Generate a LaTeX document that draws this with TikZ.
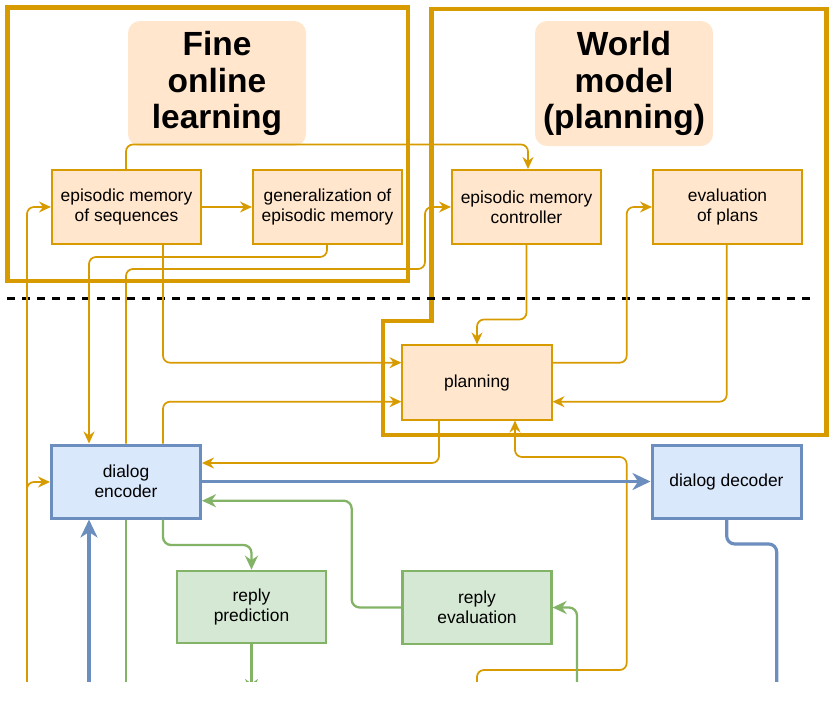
\documentclass[tikz,border=0pt]{standalone}
\usepackage{fontspec}
\setmainfont{Liberation Sans}
\usetikzlibrary{arrows.meta}
\definecolor{ostroke}{HTML}{D79B00}
\definecolor{ofill}{HTML}{FFE6CC}
\definecolor{bstroke}{HTML}{6C8EBF}
\definecolor{bfill}{HTML}{DAE8FC}
\definecolor{gstroke}{HTML}{82B366}
\definecolor{gfill}{HTML}{D5E8D4}
\tikzset{
  boxtext/.style={align=center, font=\fontsize{17.4}{19.6}\selectfont, inner sep=2pt},
  obox/.style={boxtext, draw=ostroke, fill=ofill, line width=1.6pt, minimum width=149.5pt, minimum height=74.5pt},
  bbox/.style={boxtext, draw=bstroke, fill=bfill, line width=3pt, minimum width=149pt, minimum height=73pt},
  gbox/.style={boxtext, draw=gstroke, fill=gfill, line width=2.2pt, minimum width=149pt, minimum height=72.5pt},
  titlebox/.style={fill=ofill, rounded corners=12pt, minimum width=178pt, minimum height=125pt, align=center, font=\bfseries\fontsize{33.5}{36.5}\selectfont, inner sep=0pt},
  frame/.style={draw=ostroke, line width=4.5pt},
  oc/.style={draw=ostroke, line width=1.7pt, rounded corners=7pt, -{Stealth[length=12pt,width=11pt,inset=4pt]}},
  ocn/.style={draw=ostroke, line width=1.7pt, rounded corners=7pt},
  bc/.style={draw=bstroke, line width=3.2pt, rounded corners=8pt, -{Stealth[length=18pt,width=17pt,inset=5.5pt]}},
  bcn/.style={draw=bstroke, line width=3.2pt, rounded corners=8pt},
  gc/.style={draw=gstroke, line width=2.3pt, rounded corners=8pt, -{Stealth[length=14pt,width=13pt,inset=4.5pt]}},
  gcn/.style={draw=gstroke, line width=2.3pt, rounded corners=8pt},
}
\begin{document}
\begin{tikzpicture}[x=1pt,y=-1pt]
\useasboundingbox (0,0) rectangle (835,707);
\begin{scope}
\clip (0,0) rectangle (835,681.5);
% frames
\draw[frame] (7.5,7.5) rectangle (408,281);
\draw[frame] (431.5,9) -- (826.5,9) -- (826.5,435) -- (383,435) -- (383,321) -- (431.5,321) -- cycle;
% dashed separator
\draw[black, line width=3pt, dash pattern=on 7.5pt off 7.5pt] (7,298) -- (810,298);
% titles
\node[titlebox] (t1) at (217,83.5) {Fine\\online\\learning};
\node[titlebox] (t2) at (624,83.5) {World\\model\\(planning)};
% orange boxes
\node[obox] (seq) at (126.5,207) {episodic memory\\of sequences};
\node[obox] (gen) at (327.5,207) {generalization of\\episodic memory};
\node[obox] (ctrl) at (526.5,207) {episodic memory\\controller};
\node[obox] (evp) at (727.5,207) {evaluation\\of plans};
\node[obox] (plan) at (477,382.5) {planning};
% blue boxes
\node[bbox] (enc) at (126,481.5) {dialog\\encoder};
\node[bbox] (dec) at (726.5,481.5) {dialog decoder};
% green boxes
\node[gbox] (rp) at (251.5,607) {reply\\prediction};
\node[gbox] (re) at (477,607.5) {reply\\evaluation};
% free ends below the cut
\coordinate (inL) at (27,700);
\coordinate (inB) at (477,700);
\coordinate (inE) at (89,700);
\coordinate (outD) at (776.7,700);
\coordinate (outG) at (126,700);
\coordinate (outR) at (251.5,693);
\coordinate (inG) at (577,700);
% orange connectors
\draw[oc] (seq.north -| 126,0) -- (126,144.5) -- (528,144.5) -- (ctrl.north -| 528,0);
\draw[oc] (seq) -- (gen);
\draw[oc] (gen.south -| 327,0) -- (327,257) -- (89,257) -- (enc.north -| 89,0);
\draw[oc] (enc.north -| 126,0) -- (126,269) -- (425,269) -- (425,207) -- (ctrl.west);
\draw[oc] (seq.south -| 163,0) -- (163,362.7) -- (plan.west |- 0,362.7);
\draw[oc] (enc.north -| 163,0) -- (163,401.7) -- (plan.west |- 0,401.7);
\draw[oc] (inL) -- (27,207) -- (seq.west);
\draw[oc] (inL) -- (27,482) -- (enc.west |- 0,482);
\draw[oc] (ctrl.south) -- (526.5,319.5) -- (477,319.5) -- (plan.north);
\draw[oc] (plan.east |- 0,362.7) -- (626.7,362.7) -- (626.7,207) -- (evp.west);
\draw[oc] (evp.south -| 726.7,0) -- (726.7,401.7) -- (plan.east |- 0,401.7);
\draw[oc] (plan.south -| 439,0) -- (439,463) -- (enc.east |- 0,463);
\draw[oc] (inB) -- (477,670) -- (626.7,670) -- (626.7,457) -- (515,457) -- (plan.south -| 515,0);
% blue connectors
\draw[bc] (enc) -- (dec);
\draw[bcn] (dec.south -| 726.7,0) -- (726.7,544) -- (776.7,544) -- (outD);
\draw[bc] (inE) -- (enc.south -| 89,0);
% green connectors
\draw[gc] (enc.south -| 163,0) -- (163,545) -- (251.5,545) -- (rp.north);
\draw[gcn] (enc.south -| 126,0) -- (outG);
\draw[gc] (re.west) -- (351.7,607.5) -- (351.7,500.7) -- (enc.east |- 0,500.7);
\draw[gc] (rp.south) -- (outR);
\draw[gc] (inG) -- (577,607.5) -- (re.east);
\end{scope}
\end{tikzpicture}
\end{document}
